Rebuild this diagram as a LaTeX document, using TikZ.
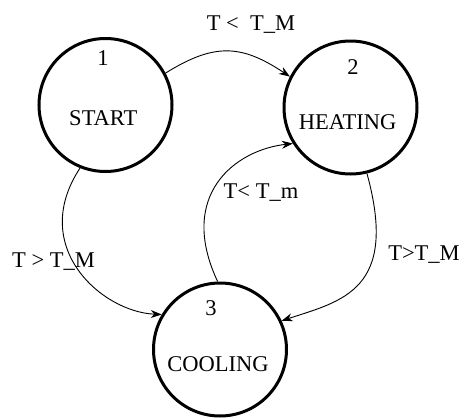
\documentclass[tikz,border=0pt]{standalone}
\usepackage{fontspec}
\setmainfont{Liberation Serif}
\usetikzlibrary{arrows.meta}
\begin{document}
\begin{tikzpicture}[x=1pt,y=-1pt,
  state/.style={circle,draw,line width=3pt,minimum size=133pt,inner sep=0pt},
  lbl/.style={anchor=base,inner sep=0pt,font=\fontsize{22.5}{27}\selectfont},
  conn/.style={line width=0.9pt,-{Stealth[length=11pt,width=8pt]}}]
\useasboundingbox (0,0) rectangle (464,418);
\node[state] (s1) at (105.5,105) {};
\node[state] (s2) at (350.5,107.5) {};
\node[state] (s3) at (220,349.5) {};
\node[lbl] (l1) at (103,65) {1};
\node[lbl] (t1) at (103.3,125) {START};
\node[lbl] (l2) at (353,74) {2};
\node[lbl] (t2) at (347.5,129.3) {HEATING};
\node[lbl] (l3) at (211,315) {3};
\node[lbl] (t3) at (218,371.7) {COOLING};
\node[lbl] (c12) at (251,30) {T <~ T\_M};
\node[lbl] (c32) at (261,198) {T< T\_m};
\node[lbl] (c13) at (53.5,267) {T > T\_M};
\node[lbl] (c23) at (424,260) {T>T\_M};
\draw[conn] (s1.28) .. controls (214,43) and (241,44) .. (s2.153);
\draw[conn] (s1.248) .. controls (28,247) and (102,312) .. (s3.149);
\draw[conn] (s3.92) .. controls (177,195) and (235,150) .. (s2.212);
\draw[conn] (s2.284) .. controls (399,290) and (342,301) .. (s3.25);
\end{tikzpicture}
\end{document}
